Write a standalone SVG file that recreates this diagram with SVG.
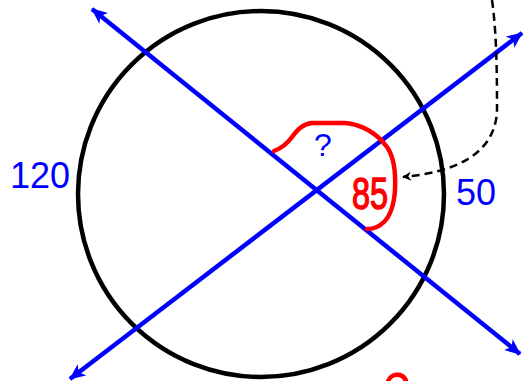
<svg xmlns="http://www.w3.org/2000/svg" width="523" height="381" viewBox="0 0 523 381">
<style>
.blue{stroke:#0000ff;stroke-width:4.5;fill:none}
.red{stroke:#ff0000;stroke-width:4.5;fill:none;stroke-linecap:round;stroke-linejoin:round}
.lbl{font-family:"Liberation Sans",Arial,sans-serif;fill:#0000ff}
</style>
<defs>
<marker id="ab" viewBox="0 0 16 14" refX="15" refY="7" markerWidth="16" markerHeight="14" orient="auto-start-reverse" markerUnits="userSpaceOnUse">
<path d="M0,0 L16,7 L0,14 L4,7 z" fill="#0000ff"/>
</marker>
<marker id="ak" viewBox="0 0 10 10" refX="9" refY="5" markerWidth="10" markerHeight="9" orient="auto" markerUnits="userSpaceOnUse">
<path d="M0,0 L10,5 L0,10 L3,5 z" fill="#000"/>
</marker>
</defs>
<rect width="523" height="381" fill="#fff"/>
<g id="circle">
<circle cx="261" cy="194" r="183" fill="none" stroke="#000" stroke-width="4.5"/>
</g>
<g id="connectors">
<line class="blue" x1="520" y1="354" x2="92" y2="9" marker-start="url(#ab)" marker-end="url(#ab)"/>
<line class="blue" x1="70" y1="379" x2="522" y2="33" marker-start="url(#ab)" marker-end="url(#ab)"/>
<path d="M492,0 C497,35 497,80 497,112 C494,155 455,172 403,177" fill="none" stroke="#000" stroke-width="2.5" stroke-dasharray="8,5" marker-end="url(#ak)"/>
</g>
<g id="annotation">
<path class="red" d="M274,151 C282,148 287,144 292,137 C298,129 303,124 312,123 L345,123 C360,124 376,132 387,147 C394,157 396,170 395,190 C394,205 391,215 384,222 C379,227 373,229 367,229"/>
<text x="370" y="209" font-family="'Liberation Sans',Arial,sans-serif" font-size="44" fill="#ff0000" stroke="#ff0000" stroke-width="1.5" text-anchor="middle" textLength="36" lengthAdjust="spacingAndGlyphs">85</text>
<path class="red" d="M388,381 C390,376 395,374 400,375 C403,376 405,378 406,381"/>
</g>
<g id="labels">
<text class="lbl" x="323" y="156" font-size="32" text-anchor="middle">?</text>
<text class="lbl" x="40" y="188" font-size="36" text-anchor="middle">120</text>
<text class="lbl" x="476" y="205" font-size="36" text-anchor="middle">50</text>
</g>
</svg>
